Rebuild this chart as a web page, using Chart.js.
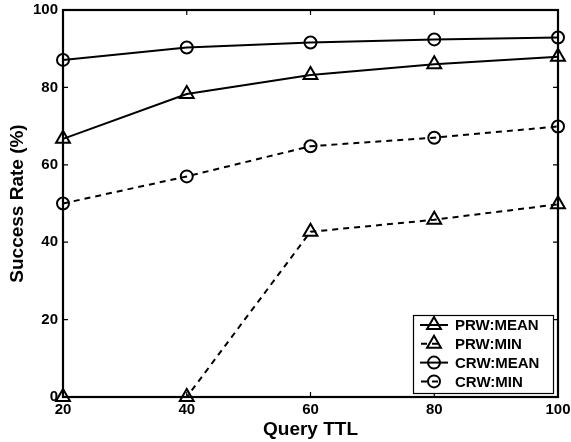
<!DOCTYPE html>
<html><head><meta charset="utf-8">
<script src="https://cdn.jsdelivr.net/npm/chart.js@4.4.1/dist/chart.umd.min.js"></script>
<style>html,body{margin:0;padding:0;background:#fff}#wrap{width:571px;height:442px}</style>
</head><body><div id="wrap"><canvas id="c" width="571" height="442"></canvas></div>
<script>
const ttl = [20, 40, 60, 80, 100];
const prwMean = [66.7, 78.3, 83.2, 86.0, 87.9];
const prwMin = [0, 0, 42.7, 45.8, 49.8];
const crwMean = [87.1, 90.3, 91.6, 92.4, 92.9];
const crwMin = [50.0, 57.0, 64.8, 67.0, 69.9];
const xTicks = [20, 40, 60, 80, 100];
const yTicks = [0, 20, 40, 60, 80, 100];
const seriesNames = ['PRW:MEAN', 'PRW:MIN', 'CRW:MEAN', 'CRW:MIN'];

const FONT = 'Liberation Sans, Arial, Helvetica, sans-serif';
function mk(label, vals, style, dashed, r) {
  return {
    label, data: ttl.map((x, i) => ({x, y: vals[i]})),
    borderColor: '#000', backgroundColor: 'rgba(0,0,0,0)',
    borderWidth: 2, borderDash: dashed ? [6, 5] : [],
    pointStyle: style, pointRadius: r, pointHoverRadius: r,
    pointBorderWidth: 2, pointBorderColor: '#000', pointBackgroundColor: 'rgba(0,0,0,0)',
    clip: false, tension: 0, fill: false
  };
}
const datasets = [
  mk(seriesNames[0], prwMean, 'triangle', false, 8),
  mk(seriesNames[1], prwMin, 'triangle', true, 8),
  mk(seriesNames[2], crwMean, 'circle', false, 6),
  mk(seriesNames[3], crwMin, 'circle', true, 6)
];

const framePlugin = {
  id: 'frame',
  afterDatasetsDraw(chart) {
    const {ctx, chartArea: a, scales: {x, y}} = chart;
    ctx.save();
    ctx.strokeStyle = '#000';
    ctx.lineWidth = 1.2;
    const tl = 5;
    ctx.beginPath();
    xTicks.forEach(v => {
      const px = x.getPixelForValue(v);
      ctx.moveTo(px, a.bottom); ctx.lineTo(px, a.bottom - tl);
      ctx.moveTo(px, a.top); ctx.lineTo(px, a.top + tl);
    });
    yTicks.forEach(v => {
      const py = y.getPixelForValue(v);
      ctx.moveTo(a.left, py); ctx.lineTo(a.left + tl, py);
      ctx.moveTo(a.right, py); ctx.lineTo(a.right - tl, py);
    });
    ctx.stroke();
    ctx.lineWidth = 2.2;
    ctx.strokeRect(a.left, a.top, a.right - a.left, a.bottom - a.top);

    // legend inside plot
    const bx = 413, by = 315, bw = 140, bh = 78;
    ctx.fillStyle = '#fff';
    ctx.fillRect(bx, by, bw, bh);
    ctx.lineWidth = 1.2;
    ctx.strokeRect(bx + 0.5, by + 0.5, bw, bh);
    ctx.textBaseline = 'middle';
    ctx.textAlign = 'left';
    chart.data.datasets.forEach((ds, i) => {
      const cy = by + 10 + i * 18.8;
      const mx = 434;
      ctx.strokeStyle = '#000';
      ctx.lineWidth = 2;
      ctx.setLineDash(ds.borderDash);
      ctx.beginPath();
      if (ds.borderDash.length) { ctx.moveTo(421, cy); ctx.lineTo(438, cy); }
      else { ctx.moveTo(420, cy); ctx.lineTo(448, cy); }
      ctx.stroke();
      ctx.setLineDash([]);
      ctx.fillStyle = 'rgba(0,0,0,0)';
      Chart.helpers.drawPoint(ctx, {pointStyle: ds.pointStyle, radius: ds.pointRadius, borderWidth: 2, rotation: 0}, mx, cy);
      ctx.fillStyle = '#000';
      ctx.font = 'bold 15px ' + FONT;
      ctx.fillText(ds.label, 455, cy + 1);
    });
    ctx.restore();
  }
};

new Chart(document.getElementById('c'), {
  type: 'line',
  data: {datasets},
  plugins: [framePlugin],
  options: {
    responsive: false, animation: false, devicePixelRatio: 1,
    layout: {padding: {left: 0, right: 13, top: 6, bottom: 0}},
    plugins: {legend: {display: false}, tooltip: {enabled: false}},
    scales: {
      x: {
        type: 'linear', min: 20, max: 100,
        afterBuildTicks: s => { s.ticks = xTicks.map(v => ({value: v})); },
        afterFit: s => { s.height = 45; s.paddingLeft = 0; s.paddingRight = 0; },
        grid: {display: false, drawTicks: false}, border: {display: false},
        ticks: {color: '#000', padding: 4, font: {family: FONT, size: 15, weight: 'bold'}, maxRotation: 0},
        title: {display: true, text: 'Query TTL', color: '#000', padding: {top: 0, bottom: 1}, font: {family: FONT, size: 19, weight: 'bold'}}
      },
      y: {
        type: 'linear', min: 0, max: 100,
        afterBuildTicks: s => { s.ticks = yTicks.map(v => ({value: v})); },
        afterFit: s => { s.width = 63; s.paddingTop = 0; s.paddingBottom = 0; },
        grid: {display: false, drawTicks: false}, border: {display: false},
        ticks: {color: '#000', padding: 5, font: {family: FONT, size: 15, weight: 'bold'}},
        title: {display: true, text: 'Success Rate (%)', color: '#000', padding: {top: 6, bottom: 0}, font: {family: FONT, size: 19, weight: 'bold'}}
      }
    }
  }
});
</script></body></html>
